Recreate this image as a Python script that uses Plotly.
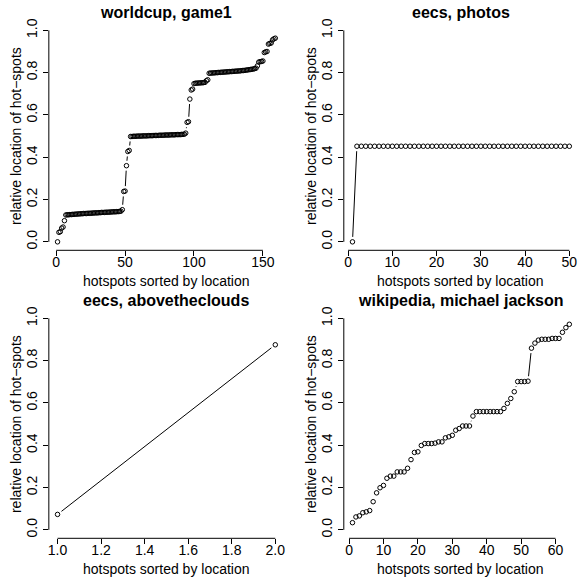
import plotly.graph_objects as go

# ---------------- data ----------------
worldcup_y = [
    0.000, 0.045, 0.048, 0.065, 0.070, 0.100,
    0.127, 0.128, 0.128, 0.129, 0.129, 0.130, 0.130, 0.131, 0.131, 0.132,
    0.132, 0.133, 0.133, 0.134, 0.134, 0.134, 0.135, 0.135, 0.135, 0.136,
    0.136, 0.137, 0.137, 0.137, 0.138, 0.138, 0.139, 0.139, 0.139, 0.140,
    0.140, 0.140, 0.141, 0.141, 0.142, 0.142, 0.142, 0.143, 0.143, 0.144,
    0.145,
    0.152,
    0.238, 0.240, 0.360, 0.427, 0.432,
    0.498, 0.498, 0.499, 0.499, 0.499, 0.500, 0.500, 0.500, 0.500, 0.501,
    0.501, 0.501, 0.501, 0.502, 0.502, 0.502, 0.502, 0.503, 0.503, 0.503,
    0.503, 0.504, 0.504, 0.504, 0.504, 0.505, 0.505, 0.505, 0.505, 0.506,
    0.506, 0.506, 0.506, 0.507, 0.507, 0.507, 0.507, 0.508, 0.508, 0.509,
    0.514, 0.565, 0.568, 0.675, 0.718, 0.722,
    0.748, 0.750, 0.750, 0.751, 0.751, 0.752, 0.752, 0.753, 0.754,
    0.762, 0.766,
    0.797, 0.798, 0.798, 0.799, 0.799, 0.800, 0.800, 0.801, 0.801, 0.802,
    0.802, 0.803, 0.803, 0.804, 0.804, 0.805, 0.805, 0.806, 0.806, 0.807,
    0.807, 0.808, 0.808, 0.809, 0.810, 0.810, 0.811, 0.812, 0.813, 0.814,
    0.815, 0.816, 0.817, 0.819, 0.821,
    0.832, 0.850, 0.852, 0.853, 0.855, 0.895, 0.898, 0.900, 0.935, 0.938,
    0.940, 0.955, 0.960, 0.963,
]

photos_y = [0.000] + [0.452] * 49

clouds_y = [0.073, 0.875]

jackson_y = [
    0.034, 0.061, 0.066, 0.081, 0.085, 0.091, 0.133, 0.175, 0.199, 0.210,
    0.244, 0.254, 0.254, 0.274, 0.274, 0.274, 0.291, 0.332, 0.366, 0.369,
    0.399, 0.408, 0.408, 0.408, 0.410, 0.416, 0.416, 0.435, 0.440, 0.447,
    0.471, 0.479, 0.491, 0.491, 0.491, 0.538, 0.559, 0.559, 0.559, 0.559,
    0.559, 0.559, 0.559, 0.559, 0.574, 0.598, 0.621, 0.653, 0.701, 0.701,
    0.701, 0.703, 0.859, 0.883, 0.897, 0.901, 0.901, 0.901, 0.905, 0.905,
    0.905, 0.934, 0.956, 0.972,
]

titles = ["worldcup, game1", "eecs, photos", "eecs, abovetheclouds", "wikipedia, michael jackson"]
series = [worldcup_y, photos_y, clouds_y, jackson_y]
x_ticks = [[0, 50, 100, 150], [0, 10, 20, 30, 40, 50],
           [1.0, 1.2, 1.4, 1.6, 1.8, 2.0], [0, 10, 20, 30, 40, 50, 60]]
x_tick_labels = [["0", "50", "100", "150"], ["0", "10", "20", "30", "40", "50"],
                 ["1.0", "1.2", "1.4", "1.6", "1.8", "2.0"],
                 ["0", "10", "20", "30", "40", "50", "60"]]
y_ticks = [0.0, 0.2, 0.4, 0.6, 0.8, 1.0]
y_tick_labels = ["0.0", "0.2", "0.4", "0.6", "0.8", "1.0"]
x_label = "hotspots sorted by location"
y_label = "relative location of hot\u2212spots"

# ---------------- layout geometry (pixels) ----------------
W, H = 579, 583
FONT = "Liberation Sans, Arial, Helvetica, sans-serif"
FS = 14
# plot regions: (left, right, top, bottom) in pixels
regions = [(48, 284, 18, 248), (344, 579, 18, 248),
           (48, 284, 308, 538), (344, 579, 308, 538)]
GAP = 5.0  # R type="b" gap around points, in pixels

fig = go.Figure()
layout = dict(
    width=W, height=H, margin=dict(l=0, r=0, t=0, b=0),
    paper_bgcolor="white", plot_bgcolor="white", showlegend=False,
    font=dict(family=FONT, color="black", size=FS),
)
shapes, annotations = [], []

for i, ys in enumerate(series):
    n = len(ys)
    xs = list(range(1, n + 1))
    l, r, t, b = regions[i]
    xdom = [l / W, r / W]
    ydom = [1 - b / H, 1 - t / H]
    sfx = "" if i == 0 else str(i + 1)
    xmin, xmax = min(xs), max(xs)
    pad = 0.04 * (xmax - xmin)
    xr = [xmin - pad, xmax + pad]
    ylo, yhi = 0.0, 1.0
    ypad = 0.04 * (yhi - ylo)
    yr = [ylo - ypad, yhi + ypad]

    # R type="b": segments shortened by GAP px at both ends, omitted if too short
    sx = (r - l) / (xr[1] - xr[0])
    sy = (b - t) / (yr[1] - yr[0])
    lx, ly = [], []
    for k in range(n - 1):
        dxp = (xs[k + 1] - xs[k]) * sx
        dyp = (ys[k + 1] - ys[k]) * sy
        D = (dxp ** 2 + dyp ** 2) ** 0.5
        if D > 2 * GAP + 0.3:
            f = GAP / D
            ddx = xs[k + 1] - xs[k]
            ddy = ys[k + 1] - ys[k]
            lx += [xs[k] + f * ddx, xs[k + 1] - f * ddx, None]
            ly += [ys[k] + f * ddy, ys[k + 1] - f * ddy, None]

    fig.add_trace(go.Scatter(
        x=lx, y=ly, mode="lines", line=dict(color="black", width=1),
        xaxis="x" + sfx, yaxis="y" + sfx, hoverinfo="skip", connectgaps=False,
    ))
    fig.add_trace(go.Scatter(
        x=xs, y=ys, mode="markers",
        marker=dict(symbol="circle-open", size=4.5, color="black",
                    line=dict(width=1, color="black")),
        xaxis="x" + sfx, yaxis="y" + sfx, hoverinfo="skip",
    ))

    layout["xaxis" + sfx] = dict(
        domain=xdom, anchor="y" + sfx, range=xr,
        showgrid=False, zeroline=False, showline=False,
        ticks="outside", ticklen=5, tickwidth=1, tickcolor="black",
        tickvals=x_ticks[i], ticktext=x_tick_labels[i],
        ticklabelstandoff=-6,
        tickfont=dict(family=FONT, size=FS, color="black"),
    )
    layout["yaxis" + sfx] = dict(
        domain=ydom, anchor="x" + sfx, range=yr,
        showgrid=False, zeroline=False, showline=False,
        ticks="outside", ticklen=5, tickwidth=1, tickcolor="black",
        tickvals=y_ticks, ticktext=y_tick_labels, tickangle=-90,
        tickfont=dict(family=FONT, size=FS, color="black"),
    )
    # R-style axis lines spanning only first..last tick
    shapes.append(dict(type="line", xref="x" + sfx, yref=("y" + sfx) + " domain",
                       x0=x_ticks[i][0], x1=x_ticks[i][-1], y0=0, y1=0,
                       line=dict(color="black", width=1)))
    shapes.append(dict(type="line", xref=("x" + sfx) + " domain", yref="y" + sfx,
                       x0=0, x1=0, y0=y_ticks[0], y1=y_ticks[-1],
                       line=dict(color="black", width=1)))
    cx = (l + r) / 2 / W
    # title
    annotations.append(dict(text="<b>" + titles[i] + "</b>", xref="paper", yref="paper",
                            x=cx, y=1 - (t - 9) / H, xanchor="center", yanchor="middle",
                            showarrow=False, font=dict(family=FONT, size=16, color="black")))
    # x label
    annotations.append(dict(text=x_label, xref="paper", yref="paper",
                            x=cx, y=1 - (b + 31) / H, xanchor="center", yanchor="middle",
                            showarrow=False, font=dict(family=FONT, size=FS, color="black")))
    # y label
    annotations.append(dict(text=y_label, xref="paper", yref="paper",
                            x=(l - 33) / W, y=1 - ((t + 8 + b - 8) / 2) / H,
                            xanchor="center", yanchor="middle", textangle=-90,
                            showarrow=False, font=dict(family=FONT, size=FS, color="black")))

layout["shapes"] = shapes
layout["annotations"] = annotations
fig.update_layout(**layout)
fig.write_html("out.html")
